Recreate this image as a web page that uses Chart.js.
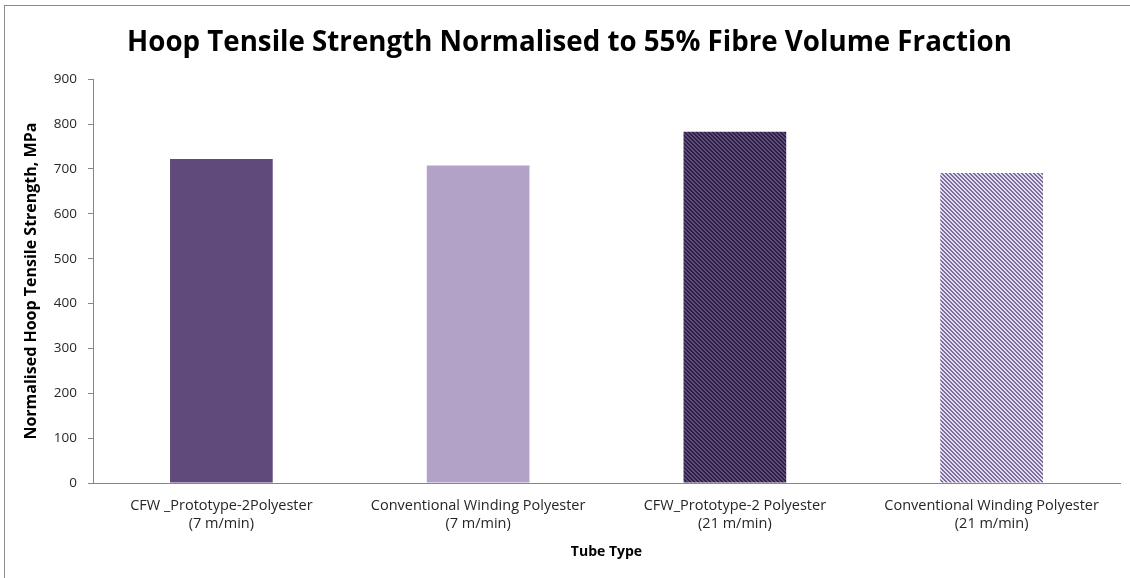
<!DOCTYPE html>
<html>
<head>
<meta charset="utf-8">
<script src="https://cdn.jsdelivr.net/npm/chart.js@4/dist/chart.umd.min.js"></script>
<style>
html, body { margin: 0; padding: 0; background: #fff; overflow: hidden; }
#wrap { position: absolute; left: 0; top: 0; width: 1130px; height: 578px; }
#frame { position: absolute; left: 4px; top: 5px; width: 1140px; height: 600px; border: 1px solid #8c8c8c; pointer-events: none; }
</style>
</head>
<body>
<div id="wrap">
  <canvas id="chart" width="1130" height="578"></canvas>
  <div id="frame"></div>
</div>
<script>
var tubeTypes = [
    ["CFW _Prototype-2Polyester", "(7 m/min)"],
    ["Conventional Winding Polyester", "(7 m/min)"],
    ["CFW_Prototype-2 Polyester", "(21 m/min)"],
    ["Conventional Winding Polyester", "(21 m/min)"]
];
var hoopStrength = [722, 708, 783, 691];

// diagonal hatch used for the 21 m/min bars
function hatch(bg, fg) {
    var c = document.createElement('canvas');
    c.width = 4;
    c.height = 4;
    var g = c.getContext('2d');
    g.fillStyle = bg;
    g.fillRect(0, 0, 4, 4);
    g.fillStyle = fg;
    for (var i = 0; i < 4; i++) {
        g.fillRect(i, i, 1, 1);
        g.fillRect((i + 1) % 4, i, 1, 1);
    }
    return g.createPattern(c, 'repeat');
}

var ctx = document.getElementById('chart').getContext('2d');
var barColours = [
    '#604a7b',
    '#b3a2c7',
    hatch('#5e4b7e', '#2e2042'),
    hatch('#e4ddef', '#7c6c9b')
];

var font = "'Open Sans', 'DejaVu Sans', sans-serif";

var myChart = new Chart(ctx, {
    type: 'bar',
    data: {
        labels: tubeTypes,
        datasets: [{
            label: 'Normalised Hoop Tensile Strength',
            data: hoopStrength,
            backgroundColor: barColours,
            borderWidth: 0,
            barPercentage: 0.4,
            categoryPercentage: 1
        }]
    },
    options: {
        responsive: false,
        animation: false,
        layout: { padding: { top: 0, right: 10, bottom: 0, left: 19 } },
        plugins: {
            legend: { display: false },
            tooltip: { enabled: false },
            title: {
                display: true,
                text: 'Hoop Tensile Strength Normalised to 55% Fibre Volume Fraction',
                color: '#000',
                font: { family: font, size: 27.7, weight: 'bold' },
                padding: { top: 26, bottom: 20 }
            }
        },
        scales: {
            x: {
                afterFit: function(scale) { scale.height = 95; },
                grid: { display: true, drawOnChartArea: false, drawTicks: false },
                border: { color: '#868686', width: 1 },
                ticks: {
                    color: '#262626',
                    padding: 14,
                    maxRotation: 0,
                    font: { family: font, size: 14.5, lineHeight: 1.25 }
                },
                title: {
                    display: true,
                    text: 'Tube Type',
                    color: '#000',
                    font: { family: font, size: 14, weight: 'bold' },
                    padding: { top: 0, bottom: 18 }
                }
            },
            y: {
                min: 0,
                max: 900,
                afterFit: function(scale) { scale.width = 74; },
                grid: { display: true, drawOnChartArea: false, tickLength: 5, tickColor: '#868686' },
                border: { color: '#868686', width: 1 },
                ticks: {
                    stepSize: 100,
                    color: '#262626',
                    padding: 11,
                    font: { family: font, size: 13.5 }
                },
                title: {
                    display: true,
                    text: 'Normalised Hoop Tensile Strength, MPa',
                    color: '#000',
                    font: { family: font, size: 16, weight: 'bold' },
                    padding: { top: 3, bottom: 0 }
                }
            }
        }
    }
});
</script>
</body>
</html>
